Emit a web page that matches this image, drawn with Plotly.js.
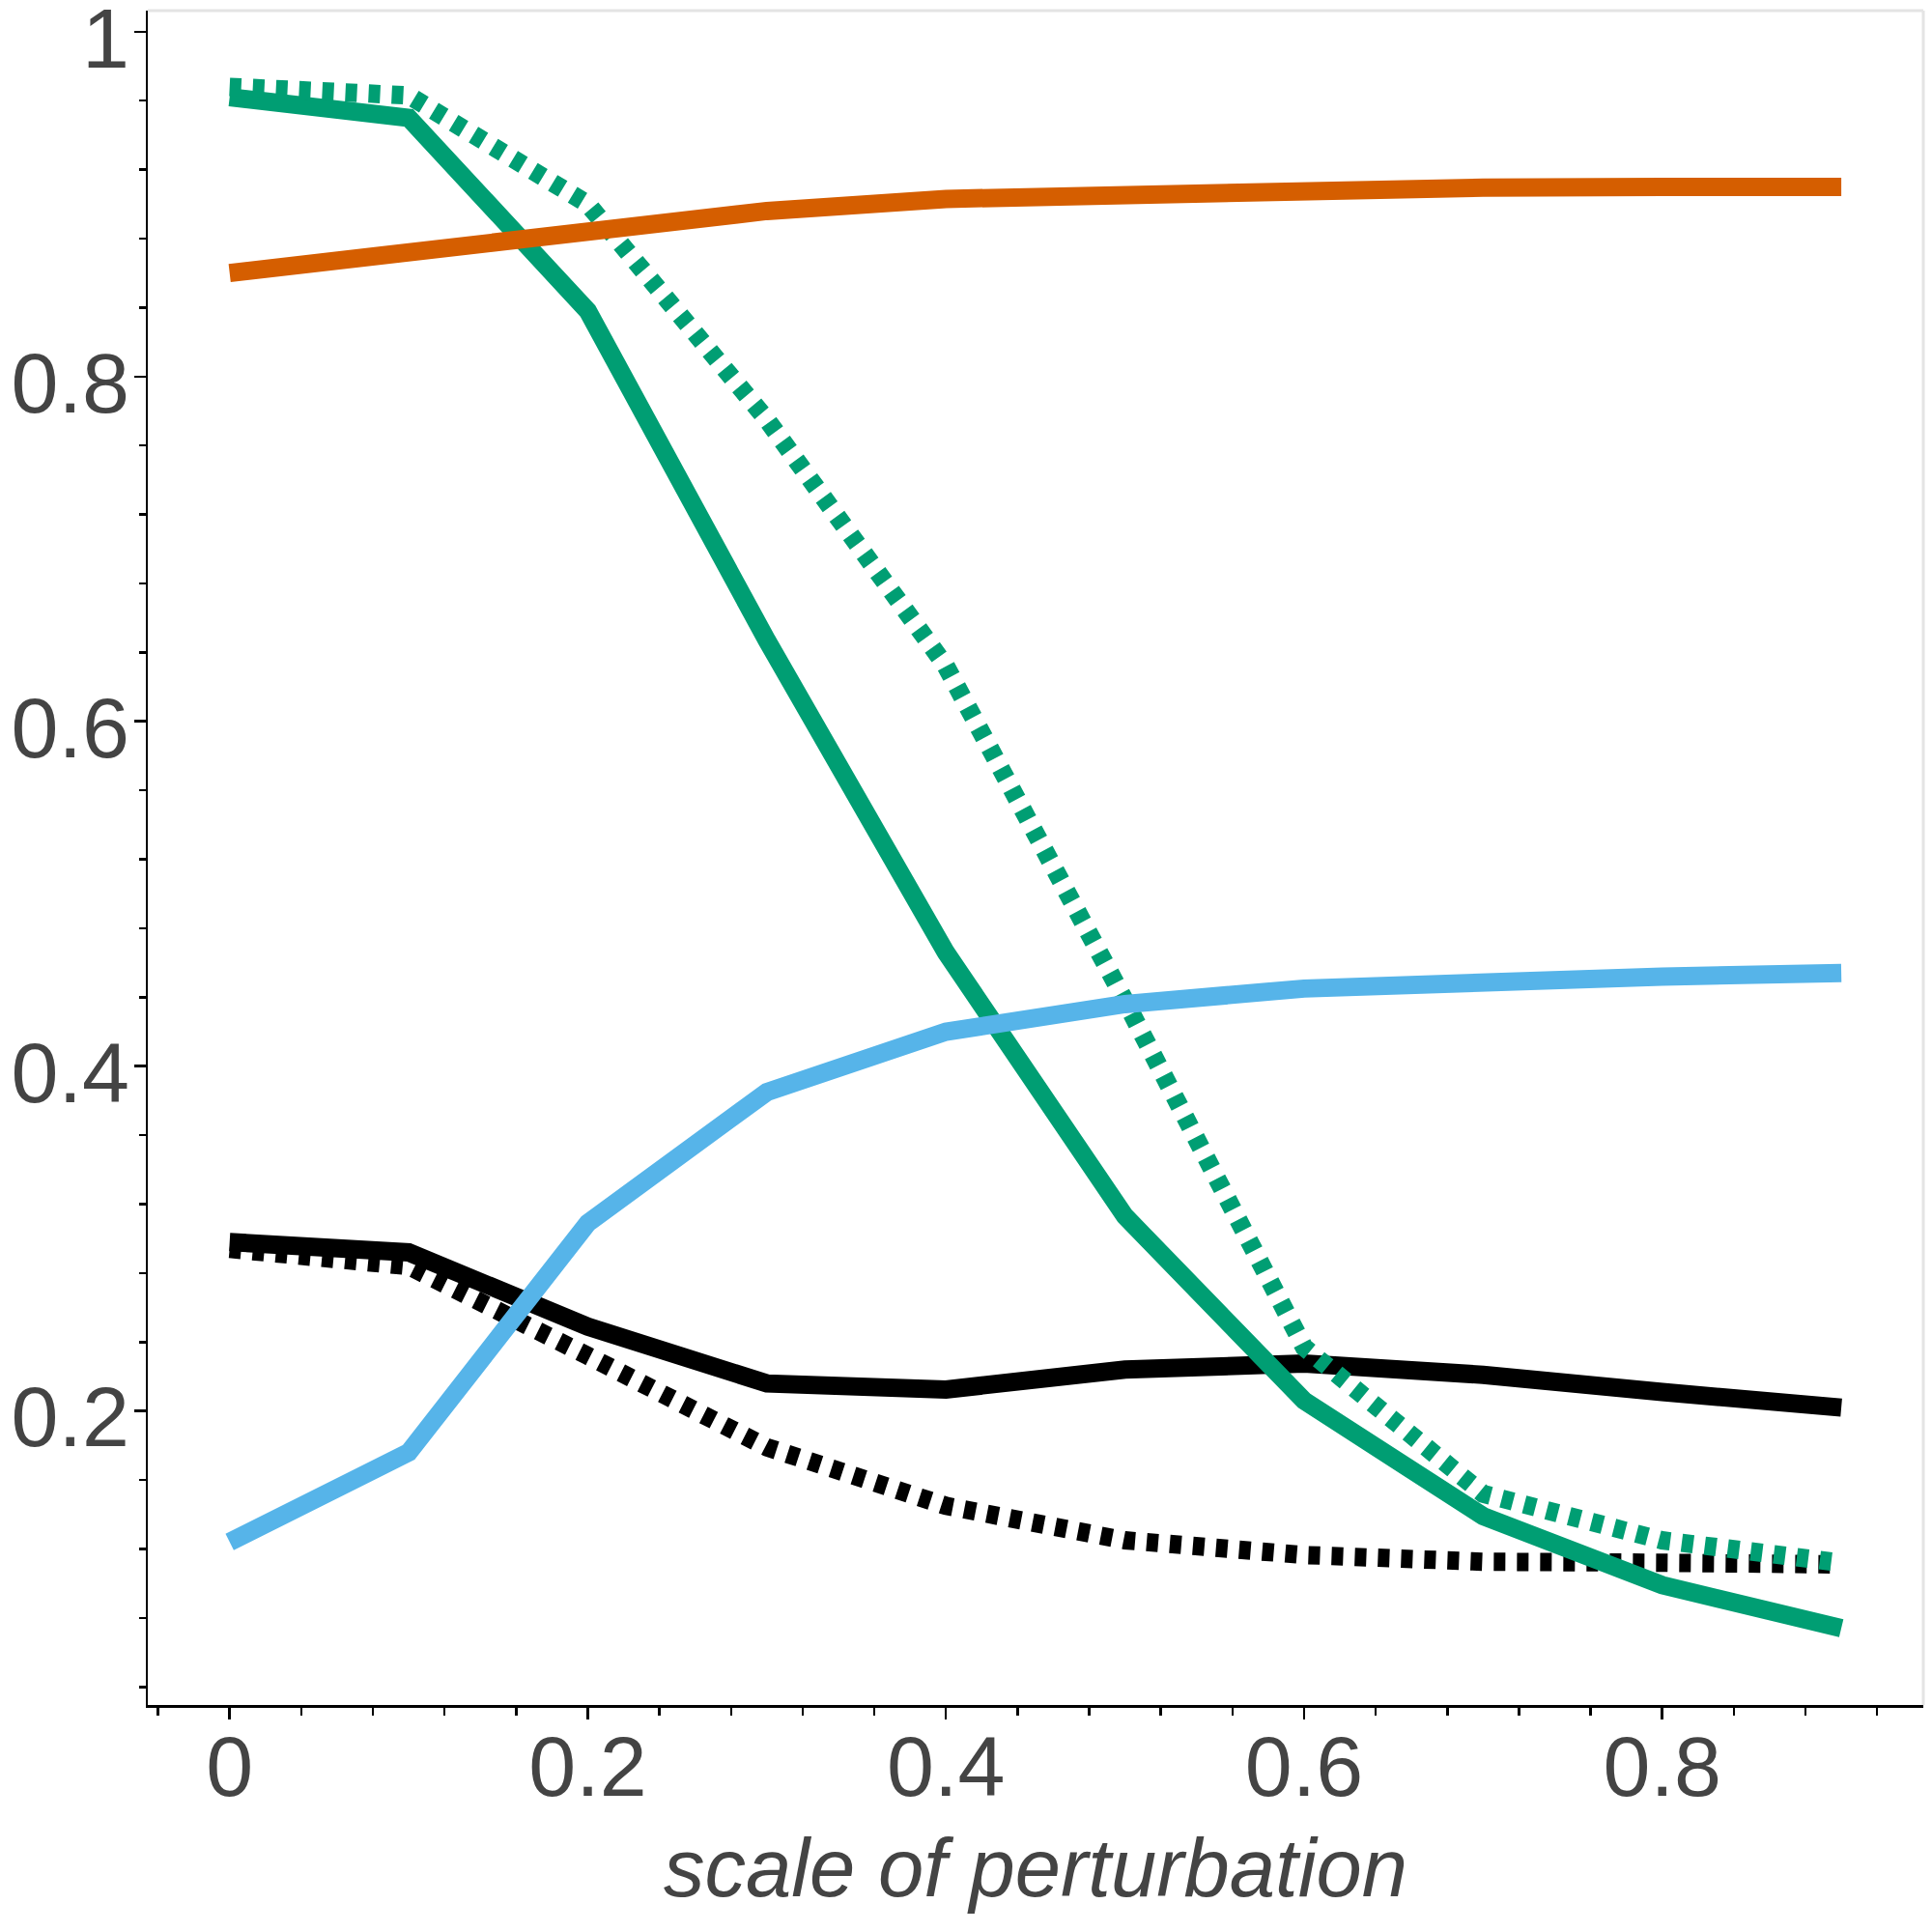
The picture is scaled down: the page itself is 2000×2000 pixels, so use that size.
<!DOCTYPE html>
<html>
<head>
<meta charset="utf-8">
<script src="https://cdn.plot.ly/plotly-3.0.1.min.js"></script>
<style>
  html, body { margin: 0; padding: 0; background: #fff; }
  #chart { width: 2000px; height: 2000px; }
</style>
</head>
<body>
<div id="chart"></div>
<script>
// scale of perturbation, one value per step
var scales = [0, 0.1, 0.2, 0.3, 0.4, 0.5, 0.6, 0.7, 0.8, 0.9];

// series
var blackSolid  = [0.298, 0.292, 0.249, 0.216, 0.2125, 0.224, 0.2275, 0.221, 0.211, 0.202];
var blackDotted = [0.294, 0.284, 0.232, 0.179, 0.145, 0.125, 0.1165, 0.1126, 0.112, 0.111];
var greenSolid  = [0.962, 0.950, 0.838, 0.647, 0.466, 0.313, 0.206, 0.139, 0.099, 0.074];
var greenDotted = [0.968, 0.963, 0.900, 0.775, 0.632, 0.438, 0.237, 0.152, 0.125, 0.112];
var blueSolid   = [0.124, 0.176, 0.309, 0.385, 0.420, 0.436, 0.445, 0.449, 0.452, 0.454];
var orangeSolid = [0.860, 0.872, 0.885, 0.896, 0.903, 0.906, 0.908, 0.9095, 0.910, 0.910];

// tick labels
var xTicks = [0, 0.2, 0.4, 0.6, 0.8];
var xTickText = ['0', '0.2', '0.4', '0.6', '0.8'];
var yTicks = [0.2, 0.4, 0.6, 0.8, 1];
var yTickText = ['0.2', '0.4', '0.6', '0.8', '1'];

var chart = document.getElementById('chart');
var lw = 19;
var dots = '12px,12px';

//helper for one line trace
function line(y, color, dash) {
    return {x: scales, y: y, type: 'scatter', mode: 'lines', hoverinfo: 'skip',
            line: {color: color, width: lw, dash: dash || 'solid'}};
}

// drawing order: black under green, blue and orange on top
var traces = [
    line(blackSolid, '#000000'),
    line(blackDotted, '#000000', dots),
    line(greenSolid, '#009E73'),
    line(greenDotted, '#009E73', dots),
    line(blueSolid, '#56B4E9'),
    line(orangeSolid, '#D55E00')
];

var tickFont = {family: '"Liberation Sans", Arial, sans-serif', size: 88, color: '#444444'};

var layout = {
    width: 2000, height: 2000,
    margin: {l: 153, r: 9, t: 11, b: 235},
    paper_bgcolor: '#ffffff', plot_bgcolor: '#ffffff',
    showlegend: false,
    xaxis: {
        range: [-0.0457, 0.9458],
        tickmode: 'array', tickvals: xTicks, ticktext: xTickText,
        ticks: 'outside', ticklen: 12, tickwidth: 2.5, tickcolor: '#000',
        minor: {dtick: 0.04, tick0: 0, ticks: 'outside', ticklen: 8, tickwidth: 2.5, tickcolor: '#000'},
        showline: true, linecolor: '#000', linewidth: 2.5,
        showgrid: false, zeroline: false,
        tickfont: tickFont, ticklabelstandoff: -26,
        title: {text: 'scale of perturbation', standoff: 27,
                font: {family: '"Liberation Sans", Arial, sans-serif', size: 85, color: '#444444', style: 'italic'}}
    },
    yaxis: {
        range: [0.0295, 1.0122],
        tickmode: 'array', tickvals: yTicks, ticktext: yTickText,
        ticks: 'outside', ticklen: 12, tickwidth: 2.5, tickcolor: '#000',
        minor: {dtick: 0.04, tick0: 0, ticks: 'outside', ticklen: 7, tickwidth: 2.5, tickcolor: '#000'},
        showline: true, linecolor: '#000', linewidth: 2.5,
        showgrid: false, zeroline: false,
        tickfont: tickFont, ticklabelstandoff: -13, ticklabelshift: 6, ticklabeloverflow: 'allow'
    },
    // light grey frame on top and right
    shapes: [
        {type: 'line', xref: 'paper', yref: 'paper', x0: 0, x1: 1, y0: 1, y1: 1, line: {color: '#e4e4e4', width: 3}},
        {type: 'line', xref: 'paper', yref: 'paper', x0: 1, x1: 1, y0: 0, y1: 1, line: {color: '#e4e4e4', width: 3}}
    ]
};

Plotly.newPlot(chart, traces, layout, {staticPlot: true, displayModeBar: false});
</script>
</body>
</html>
